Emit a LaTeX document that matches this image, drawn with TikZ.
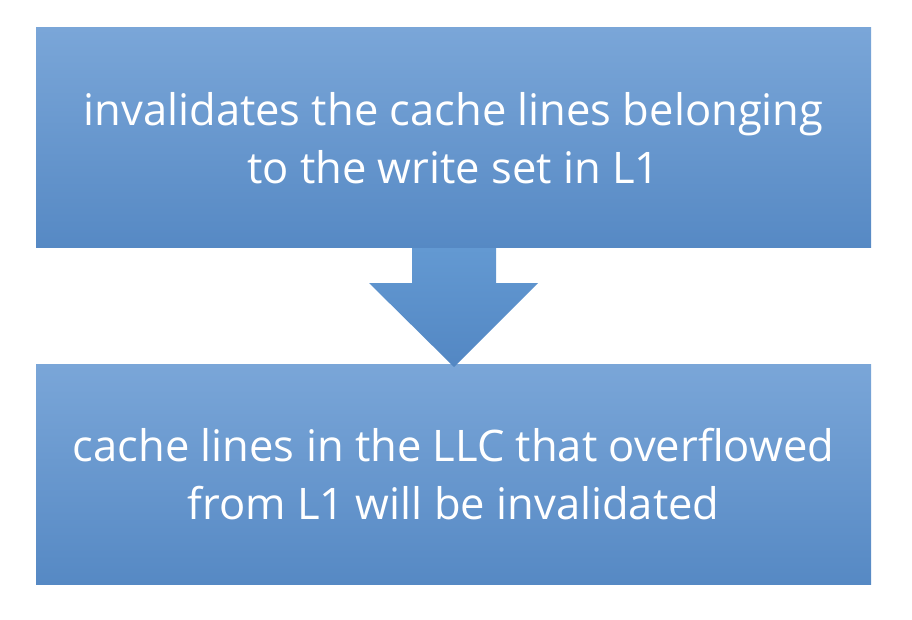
\documentclass[tikz,border=0pt]{standalone}
\usepackage{fontspec}
\setmainfont{Open Sans}
\definecolor{boxtop}{HTML}{7AA6D8}
\definecolor{boxbot}{HTML}{5689C4}
\definecolor{arrtop}{HTML}{6399D2}
\definecolor{arrbot}{HTML}{5387C3}
\begin{document}
\begin{tikzpicture}[x=1pt,y=-1pt,
  stepbox/.style={minimum width=835pt,minimum height=220pt,inner sep=0pt,
    top color=boxtop,bottom color=boxbot,draw=none,
    text=white,align=center,font=\fontsize{43.5}{58}\selectfont}]
\useasboundingbox (0,0) rectangle (912,620);
\node[stepbox] (a) at (453.5,138) {invalidates the cache lines belonging\\to the write set in L1};
\node[stepbox] (b) at (453.5,474) {cache lines in the LLC that overflowed\\from L1 will be invalidated};
\coordinate (s1) at (412,248);
\shade[top color=arrtop,bottom color=arrbot]
  (a.south -| s1) -- (412,283) -- (369,283) -- (454,367) -- (538,283) -- (496,283) -- (496,248) -- cycle;
\end{tikzpicture}
\end{document}
